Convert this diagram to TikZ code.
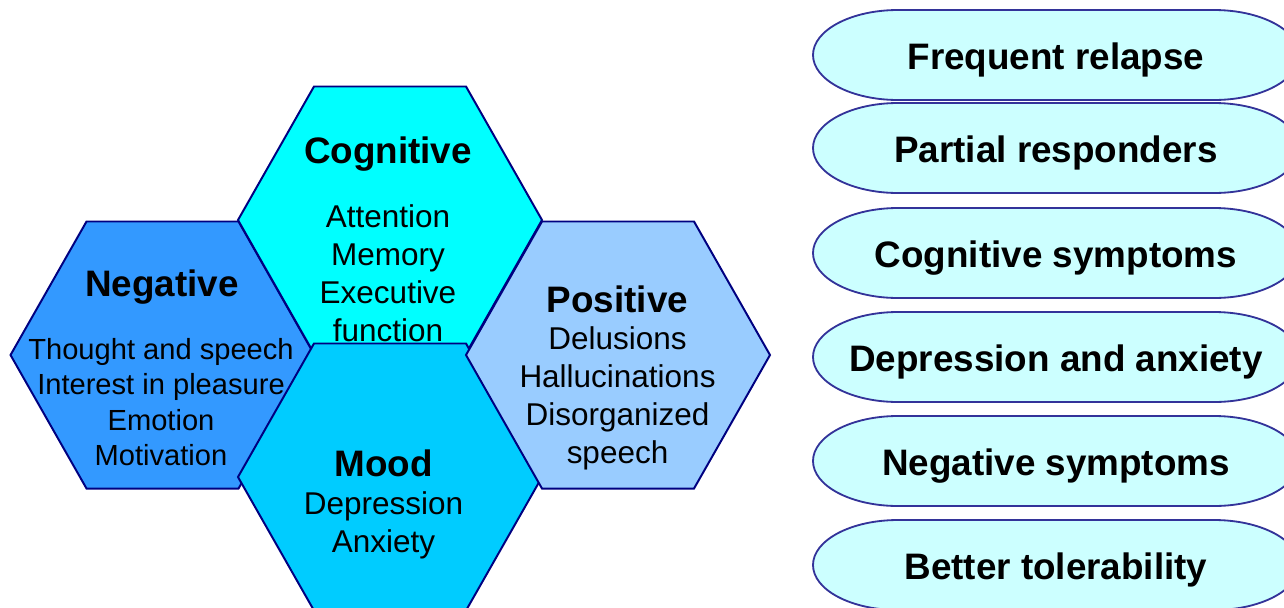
\documentclass[tikz,border=0pt]{standalone}
\usepackage{fontspec}
\setmainfont{Liberation Sans}

\definecolor{hexline}{RGB}{0,0,128}
\definecolor{negblue}{RGB}{51,153,255}
\definecolor{cogcyan}{RGB}{0,255,255}
\definecolor{moodblue}{RGB}{0,204,255}
\definecolor{posblue}{RGB}{153,204,255}
\definecolor{pillfill}{RGB}{204,255,255}
\definecolor{pillline}{RGB}{51,51,153}

\newcommand\hextitle{\fontsize{26.2}{31}\selectfont\bfseries}
\newcommand\hexbody{\fontsize{22.4}{27.2}\selectfont}
\newcommand\negbody{\fontsize{20.7}{25.25}\selectfont}
\newcommand\pilltext{\fontsize{26.2}{31}\selectfont\bfseries}

\begin{document}
\begin{tikzpicture}[
  hexside/.style={draw=hexline,line width=1.4pt,line join=miter},
  pill/.style={draw=pillline,fill=pillfill,line width=1.3pt},
  label/.style={anchor=base,inner sep=0pt}]
\useasboundingbox (0,0) rectangle (32.100,-15.175);
\clip (0,0) rectangle (32.100,-15.175);

% hexagons, back to front
\coordinate (neg) at (4.063,-8.875);
\draw[hexside,fill=negblue] (neg) +(-3.800,0) -- +(-1.900,3.338) -- +(1.900,3.338) -- +(3.800,0) -- +(1.900,-3.338) -- +(-1.900,-3.338) -- cycle;
\node[label] (negtitle) at (4.050,-7.400) {\hextitle Negative};
\node[label] (negtext) at (4.025,-8.975) {\negbody\begin{tabular}[t]{@{}c@{}}Thought and speech\\Interest in pleasure\\Emotion\\Motivation\end{tabular}};

\coordinate (cog) at (9.750,-5.500);
\draw[hexside,fill=cogcyan] (cog) +(-3.800,0) -- +(-1.900,3.338) -- +(1.900,3.338) -- +(3.800,0) -- +(1.900,-3.338) -- +(-1.900,-3.338) -- cycle;
\node[label] (cogtitle) at (9.700,-4.075) {\hextitle Cognitive};
\node[label] (cogtext) at (9.700,-5.675) {\hexbody\begin{tabular}[t]{@{}c@{}}Attention\\Memory\\Executive\\function\end{tabular}};

\coordinate (mood) at (9.750,-11.925);
\draw[hexside,fill=moodblue] (mood) +(-3.800,0) -- +(-1.900,3.338) -- +(1.900,3.338) -- +(3.800,0) -- +(1.900,-3.338) -- +(-1.900,-3.338) -- cycle;
\node[label] (moodtitle) at (9.588,-11.900) {\hextitle Mood};
\node[label] (moodtext) at (9.588,-12.850) {\hexbody\begin{tabular}[t]{@{}c@{}}Depression\\Anxiety\end{tabular}};

\coordinate (pos) at (15.450,-8.875);
\draw[hexside,fill=posblue] (pos) +(-3.800,0) -- +(-1.900,3.338) -- +(1.900,3.338) -- +(3.800,0) -- +(1.900,-3.338) -- +(-1.900,-3.338) -- cycle;
\node[label] (postitle) at (15.438,-7.800) {\hextitle Positive};
\node[label] (postext) at (15.438,-8.725) {\hexbody\begin{tabular}[t]{@{}c@{}}Delusions\\Hallucinations\\Disorganized\\speech\end{tabular}};

% pills on the right
\draw[pill] (22.450,-0.250) -- (30.350,-0.250) arc[start angle=90,end angle=-90,x radius=2.125,y radius=1.125] -- (22.450,-2.500) arc[start angle=270,end angle=90,x radius=2.125,y radius=1.125] -- cycle;
\node[label] (relapse) at (26.400,-1.725) {\pilltext Frequent relapse};
\draw[pill] (22.450,-2.575) -- (30.350,-2.575) arc[start angle=90,end angle=-90,x radius=2.125,y radius=1.125] -- (22.450,-4.825) arc[start angle=270,end angle=90,x radius=2.125,y radius=1.125] -- cycle;
\node[label] (partial) at (26.400,-4.050) {\pilltext Partial responders};
\draw[pill] (22.450,-5.200) -- (30.350,-5.200) arc[start angle=90,end angle=-90,x radius=2.125,y radius=1.125] -- (22.450,-7.450) arc[start angle=270,end angle=90,x radius=2.125,y radius=1.125] -- cycle;
\node[label] (cogsym) at (26.400,-6.675) {\pilltext Cognitive symptoms};
\draw[pill] (22.450,-7.800) -- (30.350,-7.800) arc[start angle=90,end angle=-90,x radius=2.125,y radius=1.125] -- (22.450,-10.050) arc[start angle=270,end angle=90,x radius=2.125,y radius=1.125] -- cycle;
\node[label] (depanx) at (26.400,-9.275) {\pilltext Depression and anxiety};
\draw[pill] (22.450,-10.400) -- (30.350,-10.400) arc[start angle=90,end angle=-90,x radius=2.125,y radius=1.125] -- (22.450,-12.650) arc[start angle=270,end angle=90,x radius=2.125,y radius=1.125] -- cycle;
\node[label] (negsym) at (26.400,-11.875) {\pilltext Negative symptoms};
\draw[pill] (22.450,-13.000) -- (30.350,-13.000) arc[start angle=90,end angle=-90,x radius=2.125,y radius=1.125] -- (22.450,-15.250) arc[start angle=270,end angle=90,x radius=2.125,y radius=1.125] -- cycle;
\node[label] (toler) at (26.400,-14.475) {\pilltext Better tolerability};
\end{tikzpicture}
\end{document}
